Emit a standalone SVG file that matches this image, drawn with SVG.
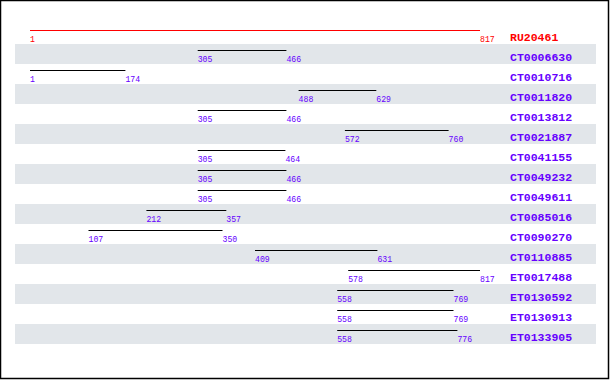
<svg xmlns="http://www.w3.org/2000/svg" width="610" height="380" viewBox="0 0 610 380">
<style>
.band{fill:#E2E6EA}
.ln{stroke:#000;stroke-width:1.2}
.ref{stroke:#FF0000;stroke-width:1.2}
.num{font-family:"Liberation Mono","DejaVu Sans Mono",monospace;font-size:8.2px;fill:#6600FF}
.name{font-family:"Liberation Mono","DejaVu Sans Mono",monospace;font-size:11.5px;font-weight:bold;fill:#6600FF}
.red{fill:#FF0000}
</style>
<rect x="0" y="0" width="610" height="380" fill="#fff"/>
<g id="bands">
<rect class="band" x="15" y="44" width="581" height="20"/>
<rect class="band" x="15" y="84" width="581" height="20"/>
<rect class="band" x="15" y="124" width="581" height="20"/>
<rect class="band" x="15" y="164" width="581" height="20"/>
<rect class="band" x="15" y="204" width="581" height="20"/>
<rect class="band" x="15" y="244" width="581" height="20"/>
<rect class="band" x="15" y="284" width="581" height="20"/>
<rect class="band" x="15" y="324" width="581" height="20"/>
</g>
<g id="connectors">
<line class="ref" x1="30" y1="30.5" x2="480" y2="30.5"/>
<line class="ln" x1="197.7" y1="50.5" x2="286.4" y2="50.5"/>
<line class="ln" x1="30" y1="70.5" x2="125.4" y2="70.5"/>
<line class="ln" x1="298.6" y1="90.5" x2="376.3" y2="90.5"/>
<line class="ln" x1="197.7" y1="110.5" x2="286.4" y2="110.5"/>
<line class="ln" x1="344.9" y1="130.5" x2="448.6" y2="130.5"/>
<line class="ln" x1="197.7" y1="150.5" x2="285.4" y2="150.5"/>
<line class="ln" x1="197.7" y1="170.5" x2="286.4" y2="170.5"/>
<line class="ln" x1="197.7" y1="190.5" x2="286.4" y2="190.5"/>
<line class="ln" x1="146.4" y1="210.5" x2="226.3" y2="210.5"/>
<line class="ln" x1="88.5" y1="230.5" x2="222.5" y2="230.5"/>
<line class="ln" x1="255" y1="250.5" x2="377.4" y2="250.5"/>
<line class="ln" x1="348.2" y1="270.5" x2="480" y2="270.5"/>
<line class="ln" x1="337.2" y1="290.5" x2="453.5" y2="290.5"/>
<line class="ln" x1="337.2" y1="310.5" x2="453.5" y2="310.5"/>
<line class="ln" x1="337.2" y1="330.5" x2="457.4" y2="330.5"/>
</g>
<g id="RU20461"><text class="num red" x="30" y="42">1</text><text class="num red" x="480" y="42">817</text><text class="name red" x="510" y="40.5">RU20461</text></g>
<g id="CT0006630"><text class="num" x="197.7" y="62">305</text><text class="num" x="286.4" y="62">466</text><text class="name" x="510" y="60.5">CT0006630</text></g>
<g id="CT0010716"><text class="num" x="30" y="82">1</text><text class="num" x="125.4" y="82">174</text><text class="name" x="510" y="80.5">CT0010716</text></g>
<g id="CT0011820"><text class="num" x="298.6" y="102">488</text><text class="num" x="376.3" y="102">629</text><text class="name" x="510" y="100.5">CT0011820</text></g>
<g id="CT0013812"><text class="num" x="197.7" y="122">305</text><text class="num" x="286.4" y="122">466</text><text class="name" x="510" y="120.5">CT0013812</text></g>
<g id="CT0021887"><text class="num" x="344.9" y="142">572</text><text class="num" x="448.6" y="142">760</text><text class="name" x="510" y="140.5">CT0021887</text></g>
<g id="CT0041155"><text class="num" x="197.7" y="162">305</text><text class="num" x="285.4" y="162">464</text><text class="name" x="510" y="160.5">CT0041155</text></g>
<g id="CT0049232"><text class="num" x="197.7" y="182">305</text><text class="num" x="286.4" y="182">466</text><text class="name" x="510" y="180.5">CT0049232</text></g>
<g id="CT0049611"><text class="num" x="197.7" y="202">305</text><text class="num" x="286.4" y="202">466</text><text class="name" x="510" y="200.5">CT0049611</text></g>
<g id="CT0085016"><text class="num" x="146.4" y="222">212</text><text class="num" x="226.3" y="222">357</text><text class="name" x="510" y="220.5">CT0085016</text></g>
<g id="CT0090270"><text class="num" x="88.5" y="242">107</text><text class="num" x="222.5" y="242">350</text><text class="name" x="510" y="240.5">CT0090270</text></g>
<g id="CT0110885"><text class="num" x="255" y="262">409</text><text class="num" x="377.4" y="262">631</text><text class="name" x="510" y="260.5">CT0110885</text></g>
<g id="ET0017488"><text class="num" x="348.2" y="282">578</text><text class="num" x="480" y="282">817</text><text class="name" x="510" y="280.5">ET0017488</text></g>
<g id="ET0130592"><text class="num" x="337.2" y="302">558</text><text class="num" x="453.5" y="302">769</text><text class="name" x="510" y="300.5">ET0130592</text></g>
<g id="ET0130913"><text class="num" x="337.2" y="322">558</text><text class="num" x="453.5" y="322">769</text><text class="name" x="510" y="320.5">ET0130913</text></g>
<g id="ET0133905"><text class="num" x="337.2" y="342">558</text><text class="num" x="457.4" y="342">776</text><text class="name" x="510" y="340.5">ET0133905</text></g>
<rect x="0.5" y="0.5" width="608" height="378" fill="none" stroke="#000" stroke-width="1.5"/>
</svg>
